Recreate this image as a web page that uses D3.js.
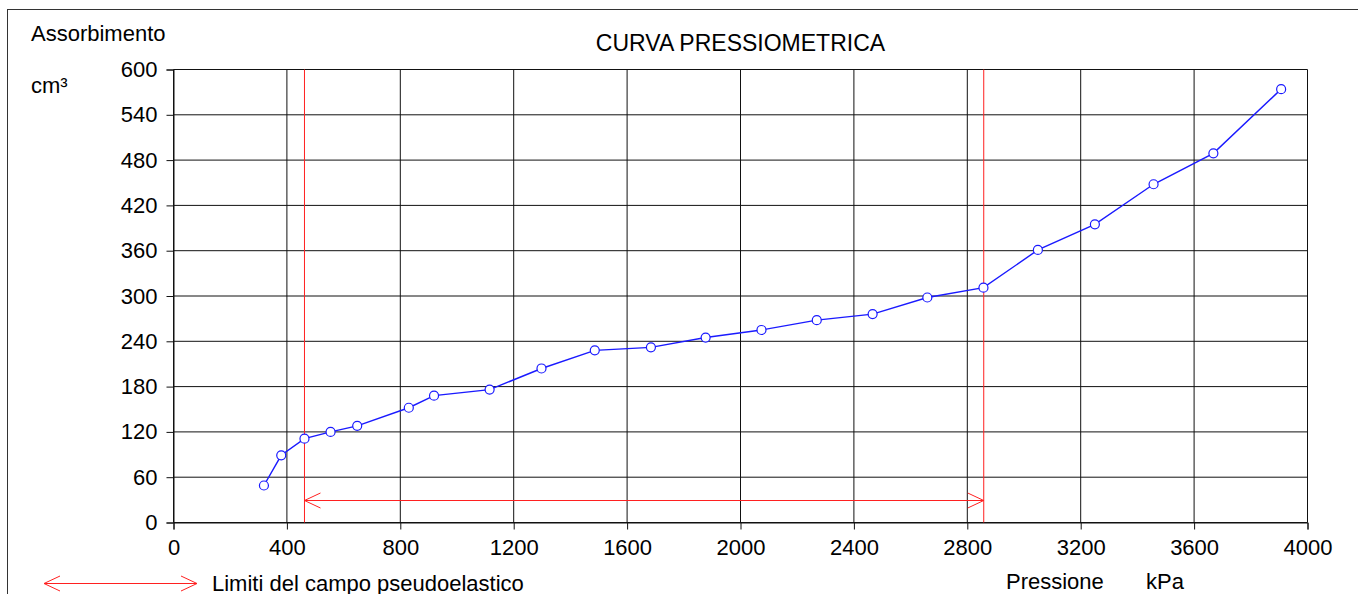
<!DOCTYPE html>
<html>
<head>
<meta charset="utf-8">
<script src="https://cdn.jsdelivr.net/npm/d3@7"></script>
<style>
  body { margin: 0; background: #fff; }
  svg { display: block; font-family: Arial, "Liberation Sans", sans-serif; }
</style>
</head>
<body>
<div id="chart"></div>
<script>
// Pressure (kPa) and absorbed volume (cm³)
const pressione = [319, 380, 462, 554, 648, 830, 919, 1115, 1298, 1486, 1684,
  1877, 2074, 2269, 2466, 2659, 2857, 3049, 3250, 3457, 3668, 3907];
const assorbimento = [49, 89, 111, 120, 128, 152, 168, 176, 204, 228, 232,
  245, 255, 268, 276, 298, 311, 361, 395, 448, 489, 574];
// Limits of the pseudo-elastic range
const limiti = [462, 2858];
const limitiY = 30;
const xTicks = [0, 400, 800, 1200, 1600, 2000, 2400, 2800, 3200, 3600, 4000];
const yTicks = [0, 60, 120, 180, 240, 300, 360, 420, 480, 540, 600];

const W = 1358, H = 594;
const svg = d3.select("#chart").append("svg")
  .attr("width", W)
  .attr("height", H);

// outer frame (runs off the right and bottom edges)
svg.append("rect")
  .attr("x", 7.5).attr("y", 9.5)
  .attr("width", W).attr("height", H)
  .attr("fill", "none")
  .attr("stroke", "#333");

const xSc = d3.scaleLinear().domain([0, 4000]).range([173.5, 1307.5]);
const ySc = d3.scaleLinear().domain([0, 600]).range([522.5, 69.5]);

// grid
svg.append("g").selectAll("line").data(xTicks).join("line")
  .attr("x1", d => xSc(d)).attr("x2", d => xSc(d))
  .attr("y1", ySc(600)).attr("y2", ySc(0))
  .attr("stroke", "#111").attr("stroke-width", 1);
svg.append("g").selectAll("line").data(yTicks).join("line")
  .attr("x1", xSc(0)).attr("x2", xSc(4000))
  .attr("y1", d => ySc(d)).attr("y2", d => ySc(d))
  .attr("stroke", "#111").attr("stroke-width", 1);

// axes
const xAxis = svg.append("g")
  .attr("transform", `translate(0, ${ySc(0)})`)
  .call(d3.axisBottom(xSc).tickValues(xTicks).tickSize(7).tickPadding(10).tickFormat(d3.format("d")));
const yAxis = svg.append("g")
  .attr("transform", `translate(${xSc(0)}, 0)`)
  .call(d3.axisLeft(ySc).tickValues(yTicks).tickSize(7).tickPadding(9).tickFormat(d3.format("d")));
[xAxis, yAxis].forEach(a => {
  a.select(".domain").attr("stroke", "#111");
  a.selectAll(".tick line").attr("stroke", "#111");
  a.selectAll("text").attr("font-size", 22).attr("fill", "#000")
    .attr("font-family", "Arial, 'Liberation Sans', sans-serif");
});

// red limit lines
svg.append("g").selectAll("line").data(limiti).join("line")
  .attr("x1", d => xSc(d)).attr("x2", d => xSc(d))
  .attr("y1", ySc(600)).attr("y2", ySc(0))
  .attr("stroke", "#ff2020").attr("stroke-width", 1);

// open arrowheads
function doubleArrow(g, x1, x2, y) {
  const hl = 16, hw = 7.5;
  g.append("path")
    .attr("d", `M${x1},${y}H${x2}` +
      `M${x1 + hl},${y - hw}L${x1},${y}L${x1 + hl},${y + hw}` +
      `M${x2 - hl},${y - hw}L${x2},${y}L${x2 - hl},${y + hw}`)
    .attr("fill", "none")
    .attr("stroke", "#ff2020")
    .attr("stroke-width", 1);
}
doubleArrow(svg, xSc(limiti[0]), xSc(limiti[1]), Math.round(ySc(limitiY)) + 0.5);

// curve
const pts = pressione.map((p, i) => [p, assorbimento[i]]);
svg.append("path")
  .datum(pts)
  .attr("fill", "none")
  .attr("stroke", "#1a1aff")
  .attr("stroke-width", 1.4)
  .attr("d", d3.line().x(d => xSc(d[0])).y(d => ySc(d[1])));
svg.append("g").selectAll("circle").data(pts).join("circle")
  .attr("cx", d => xSc(d[0])).attr("cy", d => ySc(d[1]))
  .attr("r", 4.5)
  .attr("fill", "#fff")
  .attr("stroke", "#1a1aff")
  .attr("stroke-width", 1.2);

// texts
const txt = (x, y, s, size, anchor) => svg.append("text")
  .attr("x", x).attr("y", y)
  .attr("font-size", size)
  .attr("text-anchor", anchor || "start")
  .attr("fill", "#000")
  .text(s);
txt(740.5, 51, "CURVA PRESSIOMETRICA", 23, "middle");
txt(31, 40.5, "Assorbimento", 22);
txt(31, 93, "cm³", 22);
txt(1006, 589, "Pressione", 22);
txt(1146, 589, "kPa", 22);
txt(212, 591, "Limiti del campo pseudoelastico", 22);

// legend arrow
doubleArrow(svg, 44, 197, 583.5);
</script>
</body>
</html>
